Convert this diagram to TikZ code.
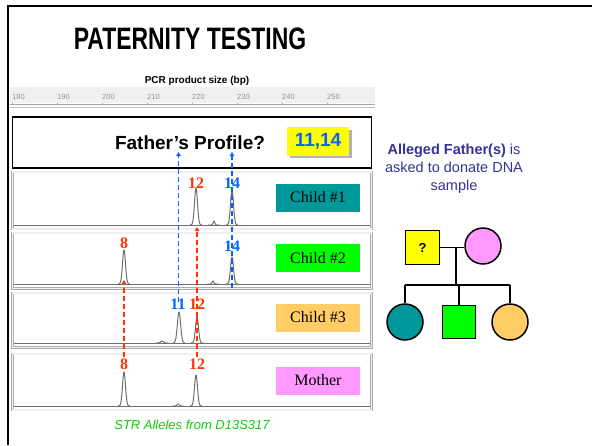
\documentclass[tikz,border=0pt]{standalone}
\usepackage{fontspec}
\usepackage{graphicx}
\setmainfont{Liberation Sans}
\newfontfamily\timesfont{Liberation Serif}
\usetikzlibrary{arrows.meta}

\definecolor{teal1}{HTML}{009999}
\definecolor{green1}{HTML}{00FF00}
\definecolor{orange1}{HTML}{FFCC66}
\definecolor{pink1}{HTML}{FF99FF}
\definecolor{yellow1}{HTML}{FFFF00}
\definecolor{allelered}{HTML}{FF3300}
\definecolor{alleleblue}{HTML}{0066FF}
\definecolor{notetext}{HTML}{333399}
\definecolor{strgreen}{HTML}{11CC11}
\definecolor{tracegray}{HTML}{6E6E6E}

\tikzset{
  panel/.style={draw=gray!65, double=gray!12, double distance=1.2pt, line width=0.7pt},
  trace/.style={draw=tracegray, line width=1pt, line join=round},
  tag/.style={font=\timesfont\fontsize{16}{16}\selectfont, minimum width=84pt, minimum height=28pt, inner sep=0pt},
  allele/.style={font=\timesfont\bfseries\fontsize{16}{16}\selectfont, inner sep=0pt},
  redallele/.style={allele, text=allelered},
  blueallele/.style={allele, text=alleleblue},
  bluearrow/.style={draw=alleleblue, line width=1.3pt, dash pattern=on 5pt off 3pt, -{Triangle[length=4pt,width=4.5pt]}},
  redarrow/.style={draw=allelered, line width=1.3pt, dash pattern=on 5pt off 3pt, -{Triangle[length=4pt,width=4.5pt]}},
  ped/.style={draw=black, line width=1.5pt},
  pedline/.style={draw=black, line width=1.3pt},
  rulernum/.style={font=\fontsize{7.5}{7.5}\selectfont, text=gray!85, inner sep=0pt, anchor=west}
}

\begin{document}
\begin{tikzpicture}[x=1pt,y=-1pt]
\useasboundingbox (0,0) rectangle (592,445);

% slide frame
\draw[line width=2.4pt] (8,445) -- (8,6) -- (592,6);

% title
\node (title) at (190,39) {\scalebox{0.74}[1]{\fontsize{31}{31}\selectfont\bfseries PATERNITY TESTING}};

% size ruler
\node[font=\bfseries\fontsize{10}{10}\selectfont] (axislabel) at (197,81) {PCR product size (bp)};
\fill[gray!12] (10,87) rectangle (375,103);
\draw[gray!70, line width=0.6pt] (10,104) -- (375,104);
\draw[gray!45, line width=1.2pt] (10,107.5) -- (375,107.5);
\foreach \k/\v in {0/180,1/190,2/200,3/210,4/220,5/230,6/240,7/250}{
  \draw[gray!70, line width=0.6pt] ({12+45*\k},102.5) -- ({12+45*\k},104);
  \node[rulernum] (tick\v) at ({12+45*\k},96.5) {\v};
}

% father's profile box
\draw[line width=1.8pt] (12.5,117) rectangle (371.5,168);
\node[font=\bfseries\fontsize{19}{19}\selectfont] (fprofile) at (190,143) {Father’s Profile?};
\fill[gray!60] (290,130) rectangle (352,158);
\node[fill=yellow1, minimum width=62pt, minimum height=29pt, inner sep=0pt,
      text=alleleblue, font=\bfseries\fontsize{19}{19}\selectfont] (fgeno) at (318,141.5) {11,14};

% electropherogram panels
\draw[panel] (12.5,172) rectangle (371.5,229);
\draw[panel] (12.5,233) rectangle (371.5,288.5);
\draw[panel] (12.5,293) rectangle (371.5,347.5);
\draw[panel] (12.5,354) rectangle (371.5,410);

% traces: baseline, then peaks (position/height/width)
\draw[trace] (14,225) -- (370,225);
\foreach \c/\h/\w in {196/37/2.1, 232/35/2.1, 214/4/1.2}{
  \draw[trace] plot[domain=-6:6, samples=41, smooth] ({\c+\x},{225-\h*exp(-(\x/\w)^2)});
}
\draw[trace] (14,284) -- (370,284);
\foreach \c/\h/\w in {124/34/2.1, 232/27/2.1, 213/3/1.2}{
  \draw[trace] plot[domain=-6:6, samples=41, smooth] ({\c+\x},{284-\h*exp(-(\x/\w)^2)});
}
\draw[trace] (14,343) -- (370,343);
\foreach \c/\h/\w in {179/31/2.3, 197/26/2.1, 162/2/2}{
  \draw[trace] plot[domain=-6:6, samples=41, smooth] ({\c+\x},{343-\h*exp(-(\x/\w)^2)});
}
\draw[trace] (14,406) -- (370,406);
\foreach \c/\h/\w in {124/34/2.1, 196/31/2.1, 178/2/1.5}{
  \draw[trace] plot[domain=-6:6, samples=41, smooth] ({\c+\x},{406-\h*exp(-(\x/\w)^2)});
}

% sample tags
\node[tag, fill=teal1] (c1) at (318,197.5) {Child \#1};
\node[tag, fill=green1] (c2) at (318,258) {Child \#2};
\node[tag, fill=orange1] (c3) at (318,317.5) {Child \#3};
\node[tag, fill=pink1] (mo) at (318,380.5) {Mother};

% allele calls
\node[redallele] (c1a) at (196,183) {12};
\node[blueallele] (c1b) at (232,183) {14};
\node[redallele] (c2a) at (124,243) {8};
\node[blueallele] (c2b) at (232,246) {14};
\node[blueallele] (c3a) at (178,304) {11};
\node[redallele] (c3b) at (197,304) {12};
\node[redallele] (moa) at (124,364) {8};
\node[redallele] (mob) at (197,364) {12};

% allele inheritance arrows
\coordinate (pa) at (178.5,152);
\coordinate (pb) at (232,152);
\coordinate (c3start) at (178.5,302);
\coordinate (c2end) at (232,288);
\coordinate (c2peak) at (124,280);
\coordinate (c1peak) at (197,227);
\coordinate (m8) at (124,357);
\coordinate (m12) at (197,357);
\draw[bluearrow] (c3start) -- (pa);
\draw[bluearrow] (c2end) -- (pb);
\draw[redarrow] (m8) -- (c2peak);
\draw[redarrow] (m12) -- (c1peak);

% caption
\node[text=strgreen, font=\itshape\fontsize{13}{13}\selectfont] (cap) at (192,425) {STR Alleles from D13S317};

% note
\node[text=notetext, align=center, font=\fontsize{14.5}{18}\selectfont] (note) at (454,169)
  {\textbf{Alleged Father(s)} is\\asked to donate DNA\\sample};

% pedigree
\node[ped, fill=yellow1, minimum size=34pt, inner sep=0pt, font=\bfseries\fontsize{13}{13}\selectfont] (pf) at (422.5,247.5) {?};
\node[ped, circle, fill=pink1, minimum size=36pt, inner sep=0pt] (pm) at (483,246) {};
\node[ped, circle, fill=teal1, minimum size=36pt, inner sep=0pt] (k1) at (405,322) {};
\node[ped, fill=green1, minimum size=33pt, inner sep=0pt] (k2) at (459,322) {};
\node[ped, circle, fill=orange1, minimum size=36pt, inner sep=0pt] (k3) at (510,322) {};
\coordinate (mate) at (456,247.5);
\coordinate (sib) at (456,285);
\draw[pedline] (pf.east) -- (pm.west |- pf.east);
\draw[pedline] (mate) -- (sib);
\draw[pedline] (k1.north |- sib) -- (k3.north |- sib);
\draw[pedline] (k1.north |- sib) -- (k1.north);
\draw[pedline] (k2.north |- sib) -- (k2.north);
\draw[pedline] (k3.north |- sib) -- (k3.north);
\end{tikzpicture}
\end{document}
